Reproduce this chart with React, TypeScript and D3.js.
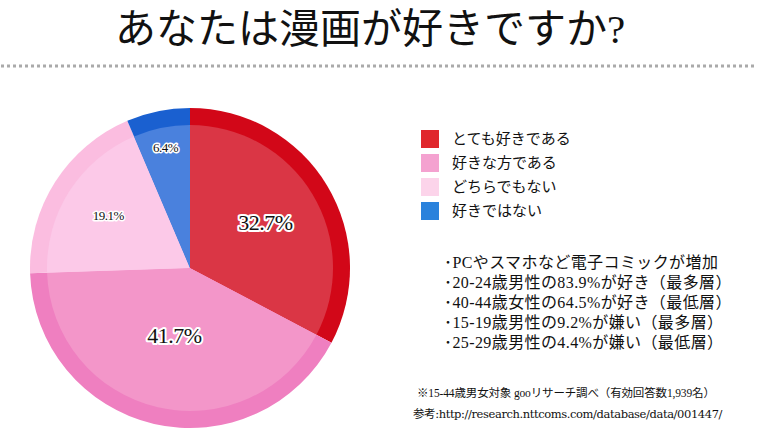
import React from 'react';
import * as d3 from 'd3';

// 漫画アンケート data
const categories: string[] = ['とても好きである', '好きな方である', 'どちらでもない', '好きではない'];
const shares: number[] = [32.7, 41.7, 19.1, 6.4];
const ringColors: string[] = ['#d20718', '#ef7fc0', '#fbbde0', '#1a60d0'];
const fillColors: string[] = ['#da3645', '#f396c9', '#fcc9e8', '#4a81dd'];
const legendColors: string[] = ['#e0272c', '#f4a2d0', '#fcd4ea', '#2a82dc'];
const notes: string[] = [
  '･PCやスマホなど電子コミックが増加',
  '･20-24歳男性の83.9%が好き（最多層）',
  '･40-44歳女性の64.5%が好き（最低層）',
  '･15-19歳男性の9.2%が嫌い（最多層）',
  '･25-29歳男性の4.4%が嫌い（最低層）',
];
const sourceLines: string[] = [
  '※15-44歳男女対象 gooリサーチ調べ（有効回答数1,939名）',
  '参考:http://research.nttcoms.com/database/data/001447/',
];
const title = 'あなたは漫画が好きですか?';

const W = 757;
const H = 435;
const FONT = '"Liberation Serif", "DejaVu Serif", "Noto Sans CJK JP", serif';
const FONT_WIDE = '"DejaVu Serif", "Noto Sans CJK JP", serif';

// label placement per slice (radius, font size)
const labelRadius = [88, 69, 97, 123];
const labelSize = [22, 22, 13, 13];

const App = () => {
  const cx = 190;
  const cy = 268;
  const R = 160;
  const rInner = 143;

  const pie = d3.pie<number>().sort(null).value(d => d);
  const arcs = pie(shares);
  const outerArc = d3.arc<d3.PieArcDatum<number>>().innerRadius(0).outerRadius(R);
  const innerArc = d3.arc<d3.PieArcDatum<number>>().innerRadius(0).outerRadius(rInner);

  return (
    <svg width={W} height={H} style={{ position: 'absolute', left: 0, top: 0, background: '#fff' }}>
      <text x={370} y={43} textAnchor="middle" fontSize={41} fontFamily={FONT} fill="#111">{title}</text>
      <line x1={1} x2={W} y1={66} y2={66} stroke="#aaa" strokeWidth={3} strokeDasharray="3,3" />

      <g transform={`translate(${cx},${cy})`}>
        {arcs.map((a, i) => (
          <path key={'o' + i} d={outerArc(a) || ''} fill={ringColors[i]} />
        ))}
        {arcs.map((a, i) => (
          <path key={'i' + i} d={innerArc(a) || ''} fill={fillColors[i]} />
        ))}
        {arcs.map((a, i) => {
          const [lx, ly] = d3.arc<d3.PieArcDatum<number>>()
            .innerRadius(labelRadius[i]).outerRadius(labelRadius[i]).centroid(a);
          const txt = `${a.data.toFixed(1)}%`;
          return (
            <g key={'l' + i}>
              <text x={lx} y={ly} dy="0.35em" textAnchor="middle" fontSize={labelSize[i]}
                fontFamily={FONT} stroke="#fff" strokeWidth={labelSize[i] > 14 ? 4 : 3}
                strokeLinejoin="round" fill="#fff" letterSpacing={-0.5}>{txt}</text>
              <text x={lx} y={ly} dy="0.35em" textAnchor="middle" fontSize={labelSize[i]}
                fontFamily={FONT} fill="#111" letterSpacing={-0.5}>{txt}</text>
            </g>
          );
        })}
      </g>

      <g transform="translate(421,130)">
        {categories.map((c, i) => (
          <g key={c} transform={`translate(0,${i * 24})`}>
            <rect width={18} height={18} fill={legendColors[i]} />
            <text x={31} y={9} dy="0.36em" fontSize={15} fontFamily={FONT} fill="#111">{c}</text>
          </g>
        ))}
      </g>

      <g transform="translate(444,262)">
        {notes.map((n, i) => (
          <text key={n} x={0} y={i * 20} dy="0.36em" fontSize={16} fontFamily={FONT} fill="#111"
            letterSpacing={0.4}>{n}</text>
        ))}
      </g>

      <g>
        <text x={417} y={397} fontSize={11.5} fontFamily={FONT} fill="#111" letterSpacing={-0.15}>{sourceLines[0]}</text>
        <text x={413} y={418} fontSize={11.5} fontFamily={FONT_WIDE} fill="#111" letterSpacing={-0.4}>{sourceLines[1]}</text>
      </g>
    </svg>
  );
};

export default App;
